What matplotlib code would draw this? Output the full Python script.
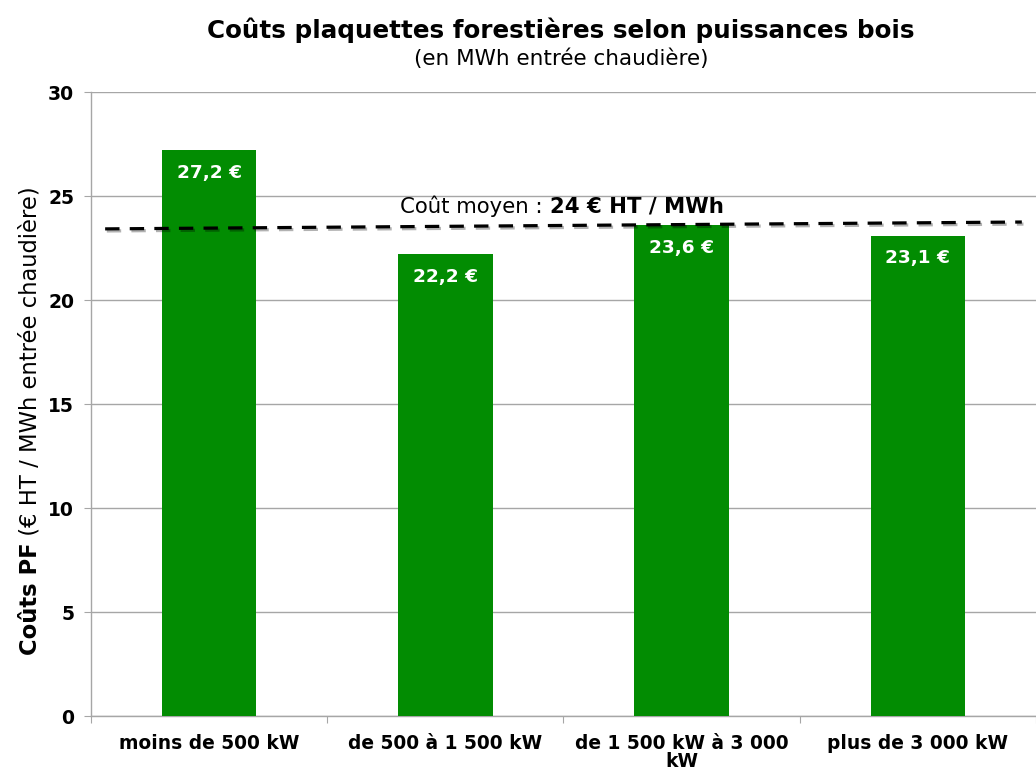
import matplotlib
matplotlib.use('Agg')
import matplotlib.pyplot as plt
import matplotlib.patheffects as pe

plt.rcParams['font.family'] = ['DejaVu Sans']

categories = ['moins de 500 kW', 'de 500 à 1 500 kW', 'de 1 500 kW à 3 000\nkW', 'plus de 3 000 kW']
costs = [27.2, 22.2, 23.6, 23.1]
labels = ['27,2 €', '22,2 €', '23,6 €', '23,1 €']
# ends of the dashed average line, as drawn in the source chart
avg_x = [-0.44, 3.44]
avg_y = [23.42, 23.75]

green = '#028c02'
grid_col = '#a6a6a6'

fig = plt.figure(figsize=(10.36, 7.7), dpi=100)
ax = fig.add_axes([0.0878, 0.0701, 0.9122, 0.8104])

x = range(len(categories))
ax.bar(x, costs, width=0.4, color=green, zorder=3)

for i, (v, lab) in enumerate(zip(costs, labels)):
    ax.annotate(lab, xy=(i, v), xytext=(0, -16.5), textcoords='offset points',
                ha='center', va='center', color='white', fontsize=13.3,
                fontweight='bold', zorder=4)

ax.plot(avg_x, avg_y, color='black', lw=2.3, dashes=(4.5, 3.2), zorder=5,
        path_effects=[pe.SimpleLineShadow(offset=(1.2, -1.5), alpha=0.3),
                      pe.Normal()])

t1 = ax.text(0.81, 24.2, 'Coût moyen : ', fontsize=15.3, ha='left', va='baseline')
ax.annotate('24 € HT / MWh', xy=(1, 0), xycoords=t1, ha='left', va='bottom',
            fontsize=15.3, fontweight='bold')

ax.set_xlim(-0.5, 3.5)
ax.set_ylim(0, 30)
ax.set_yticks(range(0, 31, 5))
ax.yaxis.grid(True, color=grid_col, lw=1, zorder=0)
ax.set_axisbelow(True)
for side in ['top', 'right']:
    ax.spines[side].set_visible(False)
for side in ['left', 'bottom']:
    ax.spines[side].set_color(grid_col)
    ax.spines[side].set_linewidth(1)

ax.set_xticks([i + 0.5 for i in range(-1, 4)])
ax.set_xticklabels([])
ax.set_xticks(list(x), minor=True)
ax.set_xticklabels(categories, minor=True, fontsize=13.4, fontweight='bold',
                   linespacing=0.95)
ax.tick_params(axis='x', which='major', length=5, color=grid_col)
ax.tick_params(axis='x', which='minor', length=0, pad=13)
ax.tick_params(axis='y', length=5, color=grid_col, pad=7, labelsize=13.5)
for t in ax.get_yticklabels():
    t.set_fontweight('bold')

fig.text(0.541, 0.961, 'Coûts plaquettes forestières selon puissances bois',
         ha='center', va='center', fontsize=17.7, fontweight='bold')
fig.text(0.542, 0.924, '(en MWh entrée chaudière)', ha='center', va='center',
         fontsize=15.5)

y1 = fig.text(0.029, 0.149, 'Coûts PF', rotation=90, ha='center', va='bottom',
              fontsize=16.3, fontweight='bold')
ax.annotate(' (€ HT / MWh entrée chaudière)', xy=(0, 1), xycoords=y1,
            rotation=90, ha='left', va='bottom', fontsize=16.3,
            annotation_clip=False)

fig.savefig('out.png', dpi=100)
